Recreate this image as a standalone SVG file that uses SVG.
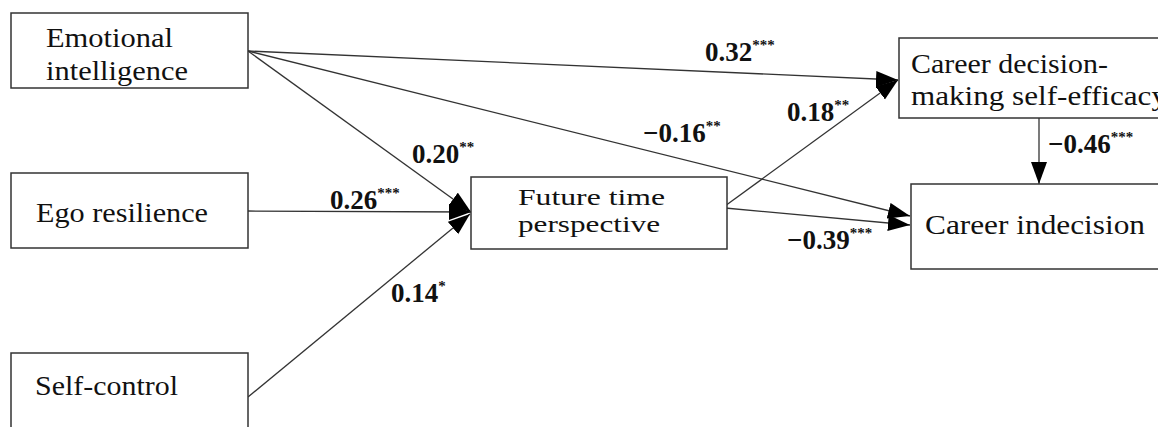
<svg xmlns="http://www.w3.org/2000/svg" width="1158" height="427" viewBox="0 0 1158 427">
<defs>
<style>
.box{fill:#fff;stroke:#333;stroke-width:1.5}
.t{font-size:27px;fill:#111}
.t2{font-size:24px;fill:#111}
.lab{font-size:27px;font-weight:bold;fill:#111}
.sup{font-size:15px;font-weight:bold}
.ln{stroke:#333;stroke-width:1.3;fill:none;marker-end:url(#ah)}
</style>
<marker id="ah" markerUnits="userSpaceOnUse" markerWidth="24" markerHeight="18" refX="22" refY="8" orient="auto">
<path d="M0,0 L22,8 L0,16 z" fill="#000"/>
</marker>
</defs>
<rect width="1158" height="427" fill="#fff"/>
<g id="connectors">
<line class="ln" x1="248" y1="51" x2="898" y2="80"/>
<line class="ln" x1="248" y1="51" x2="910" y2="216"/>
<line class="ln" x1="248" y1="51" x2="471" y2="212"/>
<line class="ln" x1="248" y1="211" x2="471" y2="212"/>
<line class="ln" x1="248" y1="397" x2="470" y2="214"/>
<line class="ln" x1="725" y1="206" x2="898" y2="80"/>
<line class="ln" x1="725" y1="208" x2="910" y2="225"/>
<line class="ln" x1="1039" y1="118" x2="1039" y2="184"/>
</g>
<g font-family="Liberation Serif, Times New Roman, serif">
<g id="labels">
<text class="lab" x="705" y="61">0.32<tspan class="sup" dy="-11">***</tspan></text>
<text class="lab" x="787" y="121">0.18<tspan class="sup" dy="-11">**</tspan></text>
<text class="lab" x="643" y="142">−0.16<tspan class="sup" dy="-11">**</tspan></text>
<text class="lab" x="412" y="163">0.20<tspan class="sup" dy="-11">**</tspan></text>
<text class="lab" x="330" y="209">0.26<tspan class="sup" dy="-11">***</tspan></text>
<text class="lab" x="391" y="302">0.14<tspan class="sup" dy="-11">*</tspan></text>
<text class="lab" x="1048" y="153">−0.46<tspan class="sup" dy="-11">***</tspan></text>
<text class="lab" x="787" y="249">−0.39<tspan class="sup" dy="-11">***</tspan></text>
</g>
<g id="emotional-intelligence">
<rect class="box" x="11" y="13" width="237" height="75"/>
<text class="t" x="46" y="47" textLength="127" lengthAdjust="spacingAndGlyphs">Emotional</text>
<text class="t" x="46" y="80" textLength="142" lengthAdjust="spacingAndGlyphs">intelligence</text>
</g>
<g id="ego-resilience">
<rect class="box" x="11" y="173" width="237" height="75"/>
<text class="t" x="36" y="222" textLength="172" lengthAdjust="spacingAndGlyphs">Ego resilience</text>
</g>
<g id="self-control">
<rect class="box" x="11" y="353" width="237" height="90"/>
<text class="t" x="35" y="395" textLength="143" lengthAdjust="spacingAndGlyphs">Self-control</text>
</g>
<g id="future-time-perspective">
<rect class="box" x="471" y="177" width="256" height="72"/>
<text class="t2" x="518" y="205" textLength="147" lengthAdjust="spacingAndGlyphs">Future time</text>
<text class="t2" x="518" y="232" textLength="142" lengthAdjust="spacingAndGlyphs">perspective</text>
</g>
<g id="career-decision-making-self-efficacy">
<rect class="box" x="899" y="38" width="280" height="80"/>
<text class="t" x="911" y="73" textLength="197" lengthAdjust="spacingAndGlyphs">Career decision-</text>
<text class="t" x="911" y="105" textLength="256" lengthAdjust="spacingAndGlyphs">making self-efficacy</text>
</g>
<g id="career-indecision">
<rect class="box" x="911" y="184" width="270" height="85"/>
<text class="t" x="925" y="234" textLength="220" lengthAdjust="spacingAndGlyphs">Career indecision</text>
</g>
</g>
</svg>
